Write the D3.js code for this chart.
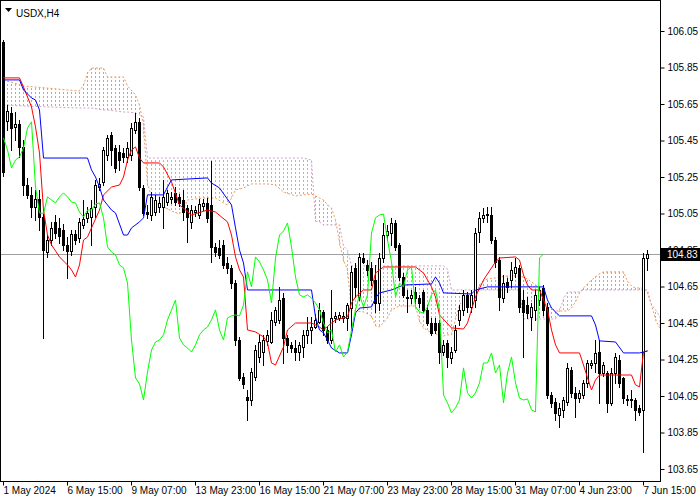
<!DOCTYPE html>
<html><head><meta charset="utf-8">
<script src="https://cdn.jsdelivr.net/npm/d3@7"></script>
<style>
body{margin:0;background:#fff}
svg{display:block}
text{font-family:"Liberation Sans",Arial,sans-serif}
</style>
</head><body>
<svg id="chart" width="700" height="500"></svg>
<script>
// ---------- DATA ----------
const title = "USDX,H4";
const openP = [105.990,105.557,105.601,105.524,105.541,105.415,105.206,105.152,105.086,105.130,
105.031,104.839,104.905,105.004,104.971,104.960,104.878,104.845,104.938,104.916,
104.987,105.026,105.031,105.086,105.195,105.223,105.371,105.480,105.409,105.387,
105.382,105.360,105.371,105.508,105.552,105.190,105.058,105.042,105.058,105.086,
105.086,105.113,105.130,105.163,105.141,105.124,105.080,105.004,105.058,105.042,
105.091,105.108,105.097,104.867,104.861,104.878,104.779,104.752,104.669,104.357,
104.154,104.045,104.028,104.154,104.264,104.291,104.352,104.346,104.456,104.467,
104.587,104.368,104.330,104.313,104.291,104.319,104.385,104.412,104.428,104.456,
104.511,104.412,104.357,104.478,104.478,104.478,104.478,104.532,104.752,104.593,
104.806,104.768,104.752,104.686,104.560,104.806,104.932,104.943,104.998,104.878,
104.702,104.587,104.587,104.620,104.587,104.620,104.522,104.450,104.450,104.450,
104.291,104.341,104.258,104.302,104.467,104.522,104.604,104.538,104.576,104.949,
105.026,105.042,105.042,104.905,104.795,104.587,104.675,104.686,104.724,104.752,
104.576,104.549,104.483,104.522,104.576,104.642,104.538,104.056,104.017,103.946,
103.974,104.017,104.193,104.067,104.039,104.056,104.122,104.220,104.231,104.291,
104.176,104.176,104.012,104.176,104.248,104.149,104.034,104.028,104.028,103.985,
103.974,104.806];
const highP = [106.001,105.645,105.634,105.606,105.563,105.453,105.245,105.195,105.179,105.179,
105.069,104.932,105.004,105.042,105.026,104.993,104.921,104.960,104.960,105.026,
105.124,105.086,105.124,105.234,105.245,105.415,105.480,105.497,105.426,105.426,
105.409,105.442,105.546,105.601,105.573,105.206,105.097,105.168,105.152,105.141,
105.234,105.179,105.168,105.195,105.157,105.179,105.097,105.097,105.091,105.130,
105.130,105.135,105.338,104.889,104.905,104.905,104.812,104.768,104.686,104.374,
104.176,104.083,104.204,104.330,104.385,104.385,104.412,104.511,104.538,104.648,
104.615,104.385,104.346,104.357,104.346,104.412,104.483,104.483,104.500,104.560,
104.522,104.428,104.631,104.511,104.511,104.511,104.560,104.763,104.779,104.834,
104.834,104.795,104.785,104.768,104.834,104.998,104.987,105.026,105.015,104.889,
104.724,104.631,104.631,104.648,104.604,104.631,104.549,104.478,104.478,104.467,
104.357,104.357,104.319,104.439,104.549,104.631,104.620,104.631,104.971,105.058,
105.080,105.086,105.086,104.921,104.812,104.713,104.697,104.785,104.806,104.768,
104.631,104.593,104.560,104.631,104.648,104.658,104.560,104.072,104.039,104.012,
104.045,104.231,104.209,104.100,104.083,104.138,104.248,104.248,104.357,104.357,
104.237,104.187,104.204,104.286,104.275,104.154,104.056,104.083,104.039,104.001,
104.834,104.850];
const lowP = [105.256,105.508,105.398,105.453,105.360,105.152,105.135,105.031,105.015,104.960,
104.368,104.812,104.878,104.916,104.889,104.850,104.697,104.823,104.883,104.894,
104.971,105.004,104.878,105.031,105.179,105.206,105.343,105.316,105.278,105.289,
105.332,105.332,105.343,105.491,105.179,105.042,105.026,105.015,105.042,105.058,
104.971,105.097,105.108,105.097,105.091,105.015,104.894,104.971,105.037,105.026,
105.069,105.004,104.785,104.817,104.806,104.752,104.724,104.642,104.330,104.138,
104.094,103.919,104.001,104.138,104.237,104.220,104.330,104.341,104.439,104.450,
104.231,104.291,104.291,104.248,104.248,104.264,104.341,104.341,104.423,104.450,
104.385,104.341,104.341,104.456,104.467,104.456,104.412,104.412,104.593,104.576,
104.779,104.713,104.658,104.511,104.522,104.785,104.905,104.878,104.850,104.686,
104.593,104.511,104.560,104.560,104.538,104.511,104.439,104.385,104.396,104.231,
104.275,104.209,104.231,104.291,104.439,104.494,104.511,104.511,104.538,104.894,
105.004,105.004,104.889,104.757,104.522,104.565,104.620,104.648,104.702,104.511,
104.264,104.478,104.412,104.467,104.549,104.494,104.039,103.990,103.919,103.880,
103.935,104.001,104.045,103.935,104.017,104.039,104.100,104.204,104.182,104.012,
104.160,103.963,104.001,104.122,104.100,104.012,104.001,103.990,103.919,103.946,
103.743,104.741];
const closeP = [105.278,105.612,105.519,105.541,105.415,105.206,105.152,105.086,105.130,105.031,
104.850,104.905,104.971,104.943,104.927,104.878,104.845,104.938,104.905,105.004,
105.020,105.053,105.080,105.206,105.212,105.398,105.464,105.398,105.300,105.343,
105.360,105.409,105.519,105.552,105.195,105.053,105.050,105.141,105.124,105.108,
105.141,105.163,105.141,105.113,105.108,105.058,105.031,105.069,105.069,105.102,
105.108,105.026,104.867,104.839,104.823,104.768,104.752,104.669,104.357,104.149,
104.116,104.028,104.182,104.302,104.346,104.357,104.385,104.467,104.522,104.576,
104.368,104.330,104.313,104.291,104.330,104.385,104.412,104.428,104.467,104.522,
104.412,104.357,104.478,104.489,104.494,104.489,104.549,104.730,104.648,104.812,
104.785,104.741,104.686,104.560,104.806,104.932,104.954,104.998,104.867,104.702,
104.604,104.593,104.604,104.587,104.560,104.522,104.450,104.396,104.412,104.291,
104.330,104.264,104.291,104.412,104.522,104.604,104.538,104.604,104.943,105.026,
105.042,105.047,104.905,104.785,104.593,104.669,104.648,104.741,104.757,104.538,
104.511,104.505,104.538,104.604,104.631,104.522,104.056,104.012,103.957,103.985,
104.028,104.204,104.067,104.039,104.067,104.122,104.231,104.231,104.286,104.176,
104.220,104.012,104.176,104.264,104.122,104.039,104.028,104.034,103.974,103.963,
104.806,104.828];

// Ichimoku lines as [bar index, price] breakpoints
const tenkan = [[0,105.793],[4,105.793],[5,105.743],[7,105.634],[8,105.524],[9,105.382],[10,105.069],[11,104.932],[12,104.878],[14,104.812],[16,104.768],[17,104.741],[18,104.702],[19,104.768],[20,104.905],[21,104.921],[22,104.971],[24,105.069],[25,105.152],[27,105.195],[29,105.206],[30,105.250],[31,105.343],[32,105.398],[33,105.415],[34,105.354],[35,105.327],[39,105.327],[40,105.305],[42,105.223],[44,105.097],[47,105.042],[51,105.069],[53,105.058],[56,105.004],[57,104.932],[58,104.812],[59,104.741],[60,104.702],[61,104.412],[63,104.401],[65,104.374],[66,104.341],[67,104.231],[68,104.220],[70,104.319],[71,104.412],[73,104.450],[77,104.450],[79,104.428],[80,104.412],[82,104.450],[83,104.467],[86,104.483],[87,104.560],[88,104.593],[90,104.631],[92,104.631],[93,104.724],[95,104.757],[103,104.757],[105,104.724],[107,104.648],[108,104.593],[109,104.494],[112,104.423],[115,104.417],[116,104.450],[117,104.522],[118,104.593],[120,104.686],[122,104.752],[123,104.785],[124,104.806],[128,104.812],[129,104.795],[130,104.713],[131,104.658],[132,104.631],[134,104.631],[135,104.576],[136,104.522],[137,104.412],[138,104.330],[139,104.286],[144,104.286],[145,104.220],[146,104.149],[147,104.083],[148,104.138],[149,104.165],[157,104.165],[158,104.111],[159,104.100],[160,104.291],[161,104.297]];
const kijun = [[0,105.782],[4,105.782],[5,105.727],[7,105.683],[8,105.672],[9,105.617],[10,105.354],[21,105.354],[22,105.289],[23,105.250],[24,105.195],[25,105.124],[27,105.069],[28,105.053],[30,104.932],[31,104.932],[32,104.971],[34,105.004],[35,105.026],[36,105.152],[40,105.152],[41,105.195],[42,105.234],[51,105.245],[52,105.217],[54,105.190],[57,105.097],[58,104.971],[59,104.850],[60,104.779],[61,104.631],[77,104.631],[78,104.483],[79,104.412],[80,104.396],[81,104.357],[82,104.313],[84,104.286],[86,104.286],[87,104.385],[88,104.505],[89,104.532],[92,104.538],[93,104.587],[94,104.615],[97,104.631],[100,104.658],[107,104.664],[108,104.702],[109,104.669],[110,104.615],[117,104.609],[118,104.631],[121,104.648],[135,104.648],[136,104.576],[137,104.532],[139,104.489],[147,104.489],[148,104.439],[149,104.352],[153,104.346],[155,104.286],[159,104.286],[160,104.291],[161,104.297]];
const chikouShift = 26;

// Cloud (Senkou Span A / B), bar index and prices
const cloudIdx = [0,5,19,20,21,22,25,26,30,31,33,34,35,36,37,38,40,42,44,45,46,50,53,55,56,57,58,60,62,66,68,70,73,75,77,78,79,80,81,82,83,84,85,86,87,88,90,92,93,94,96,97,99,103,104,105,107,109,110,111,112,113,114,115,118,119,120,121,123,126,129,130,131,132,133,134,135,136,137,138,139,140,141,142,143,144,145,146,147,148,149,150,155,156,157,158,160,161,162,163,164];
const spanA = [105.782,105.749,105.721,105.754,105.820,105.847,105.847,105.798,105.798,105.749,
105.700,105.645,105.535,105.212,105.146,105.119,105.086,105.064,105.047,105.075,
105.124,105.135,105.135,105.108,105.097,105.135,105.179,105.190,105.212,105.212,
105.206,105.168,105.146,105.152,105.157,105.146,105.135,105.124,105.097,105.080,
105.015,104.894,104.795,104.741,104.522,104.516,104.511,104.489,104.434,104.428,
104.478,104.522,104.543,104.543,104.461,104.423,104.396,104.385,104.379,104.385,
104.385,104.472,104.549,104.576,104.587,104.658,104.680,104.691,104.697,104.708,
104.708,104.702,104.691,104.675,104.658,104.648,104.582,104.543,104.532,104.516,
104.516,104.516,104.516,104.532,104.565,104.615,104.642,104.664,104.686,104.702,
104.719,104.730,104.730,104.680,104.653,104.642,104.642,104.615,104.549,104.472,
104.423];
const spanB = [105.645,105.639,105.628,105.628,105.628,105.628,105.617,105.617,105.606,105.606,
105.601,105.590,105.579,105.354,105.354,105.354,105.354,105.354,105.354,105.354,
105.354,105.354,105.354,105.354,105.354,105.354,105.354,105.354,105.354,105.354,
105.354,105.354,105.354,105.354,105.343,105.009,105.004,104.987,104.987,104.987,
104.987,104.987,104.872,104.850,104.763,104.763,104.763,104.763,104.763,104.763,
104.763,104.763,104.763,104.763,104.763,104.763,104.763,104.763,104.763,104.746,
104.631,104.631,104.631,104.631,104.631,104.631,104.631,104.631,104.631,104.631,
104.631,104.472,104.472,104.472,104.472,104.472,104.472,104.472,104.472,104.472,
104.516,104.582,104.620,104.620,104.620,104.620,104.631,104.631,104.631,104.631,
104.631,104.631,104.631,104.631,104.631,104.631,104.631,104.631,104.549,104.522,
104.489];

const priceTicks = [106.05,105.85,105.65,105.45,105.25,105.05,104.85,104.65,104.45,104.25,104.05,103.85,103.65];
const timeTickIdx = [0,16,32,48,64,80,96,112,128,144,160];
const timeTickLabels = ["1 May 2024","6 May 15:00","9 May 07:00","13 May 23:00","16 May 15:00","21 May 07:00","23 May 23:00","28 May 15:00","31 May 07:00","4 Jun 23:00","7 Jun 15:00"];

// ---------- DRAW ----------
const svg = d3.select("#chart");
const plotR = 660, plotB = 481;
const x = d3.scaleLinear().domain([0, 161]).range([3, 647]);
const y = d3.scaleLinear().domain([103.65, 106.05]).range([469, 31]);
const SANDY = "#EE9A5E", THISTLE = "#D2A2CC";

const defs = svg.append("defs");
defs.append("clipPath").attr("id","clip").append("rect")
  .attr("x",1).attr("y",1).attr("width",plotR-1).attr("height",plotB-1);

svg.append("rect").attr("x",0).attr("y",0).attr("width",700).attr("height",500).attr("fill","#fff");
const g = svg.append("g").attr("clip-path","url(#clip)");

// cloud: areas between span A and span B, hatched with vertical dotted lines (one per bar)
const cloud = cloudIdx.map((d,k)=>({i:d,a:spanA[k],b:spanB[k]}));
const segs = d3.pairs(cloud);
const clipS = defs.append("clipPath").attr("id","cloudS");
const clipT = defs.append("clipPath").attr("id","cloudT");
segs.forEach(([p,q])=>{
  const d = `M${x(p.i)-0.5},${y(p.a)}L${x(q.i)+0.5},${y(q.a)}L${x(q.i)+0.5},${y(q.b)}L${x(p.i)-0.5},${y(p.b)}Z`;
  ((p.a+q.a) >= (p.b+q.b) ? clipS : clipT).append("path").attr("d",d);
});
const hatchIdx = d3.range(-1, 167);
function hatch(clipId, color){
  g.append("g").attr("clip-path",`url(#${clipId})`).attr("shape-rendering","crispEdges")
    .selectAll("line").data(hatchIdx).join("line")
    .attr("x1",i=>x(i)+0.5).attr("x2",i=>x(i)+0.5).attr("y1",0).attr("y2",plotB)
    .attr("stroke",color).attr("stroke-width",1).attr("stroke-dasharray","2,2");
}
hatch("cloudS", SANDY);
hatch("cloudT", THISTLE);
const cl = d3.line().x(d=>x(d.i)+0.5).y(d=>y(d.v));
g.append("path").attr("d",cl(cloud.map(d=>({i:d.i,v:d.b})))).attr("fill","none")
  .attr("stroke",THISTLE).attr("stroke-width",1).attr("stroke-dasharray","2,2");
g.append("path").attr("d",cl(cloud.map(d=>({i:d.i,v:d.a})))).attr("fill","none")
  .attr("stroke",SANDY).attr("stroke-width",1).attr("stroke-dasharray","2,2");

// last price line
const last = closeP[closeP.length-1];
const ly = Math.round(y(last));
g.append("line").attr("x1",1).attr("x2",plotR).attr("y1",ly+0.5).attr("y2",ly+0.5)
  .attr("stroke","#a0a0a0").attr("stroke-width",1);

// candles
const bars = d3.range(openP.length);
const cg = g.append("g").attr("shape-rendering","crispEdges");
bars.forEach(i=>{
  const cx = Math.round(x(i));
  const o=openP[i], h=highP[i], l=lowP[i], c=closeP[i];
  cg.append("line").attr("x1",cx+0.5).attr("x2",cx+0.5)
    .attr("y1",Math.round(y(h))).attr("y2",Math.round(y(l))+1).attr("stroke","#000");
  const yt = Math.round(y(Math.max(o,c))), yb = Math.round(y(Math.min(o,c)));
  const hh = yb-yt;
  if (c < o) {
    cg.append("rect").attr("x",cx-1).attr("y",yt).attr("width",3).attr("height",Math.max(hh,1)+1).attr("fill","#000");
  } else if (hh < 2) {
    cg.append("line").attr("x1",cx-1).attr("x2",cx+2).attr("y1",yt+0.5).attr("y2",yt+0.5).attr("stroke","#000");
    if (hh===1) cg.append("line").attr("x1",cx-1).attr("x2",cx+2).attr("y1",yb+0.5).attr("y2",yb+0.5).attr("stroke","#000");
  } else {
    cg.append("rect").attr("x",cx-0.5).attr("y",yt+0.5).attr("width",2).attr("height",hh)
      .attr("fill","#fff").attr("stroke","#000").attr("stroke-width",1);
  }
});

// indicator lines
const ln = d3.line().x(d=>x(d[0])+0.5).y(d=>y(d[1]));
g.append("path").attr("d",ln(tenkan)).attr("fill","none").attr("stroke","#ff0000").attr("stroke-width",1);
g.append("path").attr("d",ln(kijun)).attr("fill","none").attr("stroke","#0000ff").attr("stroke-width",1);
const chikou = closeP.map((c,i)=>[i-chikouShift,c]).filter(d=>d[0]>=0);
g.append("path").attr("d",ln(chikou)).attr("fill","none").attr("stroke","#00ff00").attr("stroke-width",1);

// frame
svg.append("rect").attr("x",0.5).attr("y",0.5).attr("width",plotR).attr("height",plotB)
  .attr("fill","none").attr("stroke","#000").attr("stroke-width",1).attr("shape-rendering","crispEdges");

// right axis
const ya = svg.append("g").attr("transform",`translate(${plotR+0.5},0)`)
  .call(d3.axisRight(y).tickValues(priceTicks).tickSize(4).tickPadding(3).tickFormat(d3.format(".2f")));
ya.select(".domain").remove();
ya.selectAll("text").attr("font-size",10).attr("fill","#000").attr("font-family","Liberation Sans, Arial, sans-serif");
ya.selectAll("line").attr("stroke","#000");

// bottom axis
const xa = svg.append("g").attr("transform",`translate(0,${plotB+0.5})`)
  .call(d3.axisBottom(x).tickValues(timeTickIdx).tickSize(4).tickPadding(1)
    .tickFormat((d,k)=>timeTickLabels[k]));
xa.select(".domain").remove();
xa.selectAll("text").attr("font-size",10).attr("fill","#000").attr("text-anchor","start")
  .attr("font-family","Liberation Sans, Arial, sans-serif");
xa.selectAll("line").attr("stroke","#000");

// current price label (covers the nearby scale label, as in the terminal)
svg.append("rect").attr("x",plotR+1).attr("y",ly-6).attr("width",39).attr("height",13).attr("fill","#000");
svg.append("text").attr("x",plotR+7).attr("y",ly+4).attr("font-size",10).attr("fill","#fff")
  .text(d3.format(".2f")(last));

// title
svg.append("path").attr("d","M5,8L12,8L8.5,12Z").attr("fill","#000");
svg.append("text").attr("x",16).attr("y",17).attr("font-size",10).attr("fill","#000").text(title);
</script>
</body></html>
